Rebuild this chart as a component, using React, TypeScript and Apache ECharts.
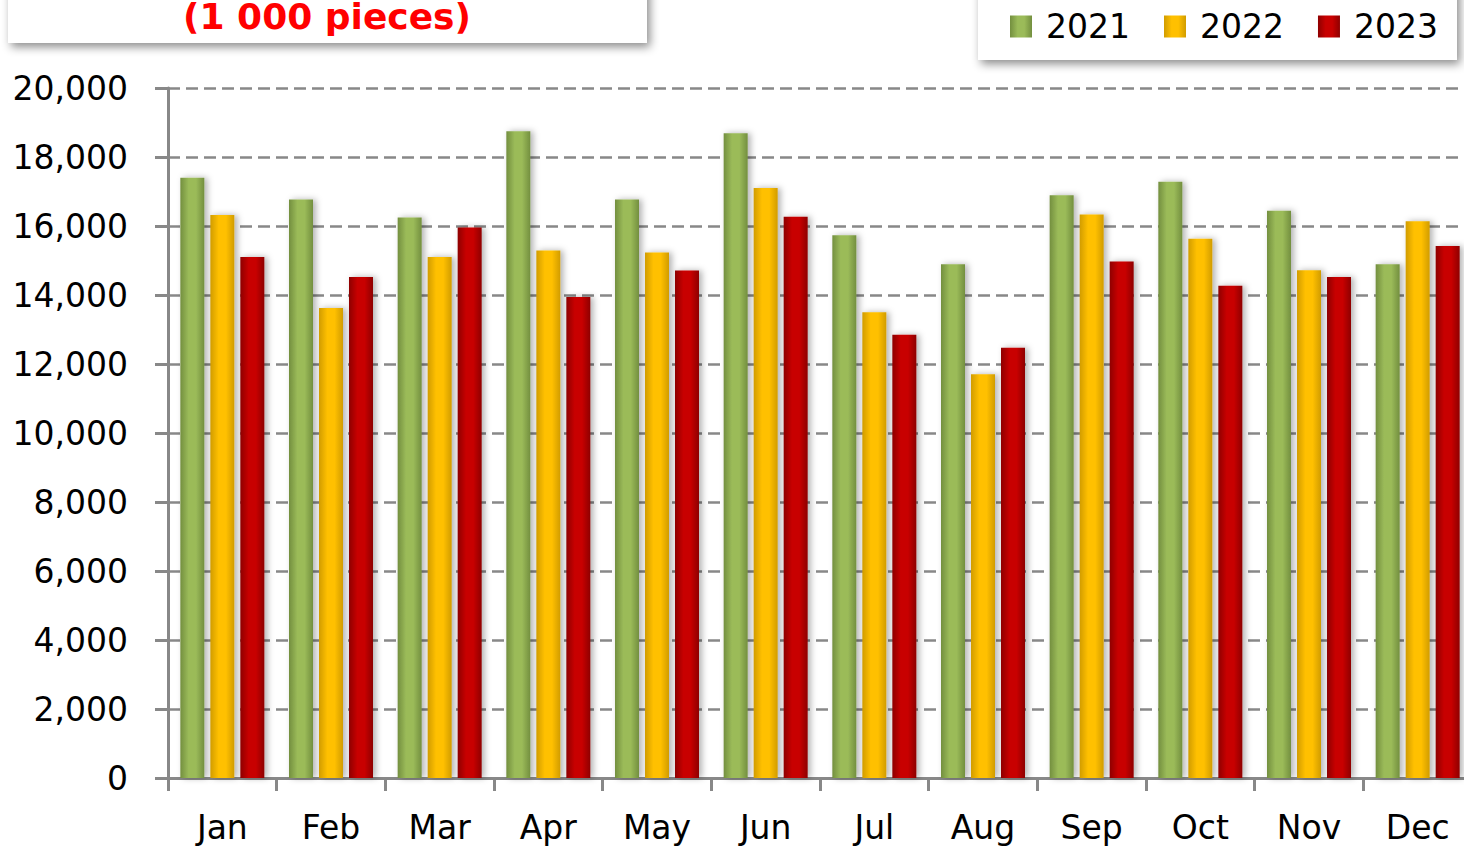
import React, { useEffect, useRef } from "react";
import * as echarts from "echarts";

const months = ["Jan", "Feb", "Mar", "Apr", "May", "Jun", "Jul", "Aug", "Sep", "Oct", "Nov", "Dec"];
const s2021 = [17400, 16770, 16250, 18750, 16770, 18690, 15730, 14890, 16890, 17280, 16440, 14890];
const s2022 = [16320, 13620, 15100, 15290, 15230, 17100, 13500, 11700, 16330, 15630, 14720, 16140];
const s2023 = [15100, 14520, 15960, 13940, 14710, 16270, 12850, 12470, 14970, 14270, 14520, 15420];
const yTicks = { min: 0, max: 20000, interval: 2000 };
const titleText = "(1 000 pieces)";

const FONT = "DejaVu Sans";

function grad(edge: string, mid: string) {
  return new echarts.graphic.LinearGradient(0, 0, 1, 0, [
    { offset: 0, color: edge },
    { offset: 0.35, color: mid },
    { offset: 0.65, color: mid },
    { offset: 1, color: edge },
  ]);
}

export default function App() {
  const ref = useRef<HTMLDivElement>(null);
  useEffect(() => {
    if (!ref.current) return;
    const chart = echarts.init(ref.current, null, { renderer: "svg" });
    const barCommon = {
      type: "bar",
      barWidth: 24,
      barGap: "25%",
      itemStyle: {
        shadowBlur: 6,
        shadowOffsetX: 3,
        shadowOffsetY: 0,
        shadowColor: "rgba(0,0,0,0.3)",
      },
    };
    chart.setOption({
      animation: false,
      backgroundColor: "#ffffff",
      grid: { left: 168, right: 0, top: 88, bottom: 68 },
      legend: {
        left: 1005,
        top: 5,
        itemWidth: 22,
        itemHeight: 22,
        itemGap: 34,
        icon: "rect",
        textStyle: { fontFamily: FONT, fontSize: 33, color: "#000", padding: [0, 0, 0, 9] },
        data: ["2021", "2022", "2023"],
      },
      graphic: [
        {
          type: "rect",
          z: 0,
          shape: { x: 8, y: -20, width: 639, height: 63 },
          style: { fill: "#fff", shadowBlur: 10, shadowOffsetX: 3, shadowOffsetY: 4, shadowColor: "rgba(0,0,0,0.45)" },
        },
        {
          type: "text",
          z: 1,
          x: 327,
          y: 16,
          style: {
            text: titleText,
            fill: "#ff0000",
            font: `bold 36px "${FONT}"`,
            align: "center",
            verticalAlign: "middle",
          },
        },
        {
          type: "rect",
          z: 0,
          shape: { x: 978, y: -20, width: 479, height: 80 },
          style: { fill: "#fff", shadowBlur: 10, shadowOffsetX: 3, shadowOffsetY: 4, shadowColor: "rgba(0,0,0,0.45)" },
        },
      ],
      xAxis: {
        type: "category",
        data: months,
        axisLine: { show: true, lineStyle: { color: "#888", width: 3 } },
        axisTick: { show: true, length: 13, lineStyle: { color: "#888", width: 3 } },
        axisLabel: { fontFamily: FONT, fontSize: 33, color: "#000", margin: 33 },
      },
      yAxis: {
        type: "value",
        min: yTicks.min,
        max: yTicks.max,
        interval: yTicks.interval,
        axisLine: { show: true, lineStyle: { color: "#888", width: 3 } },
        axisTick: { show: true, length: 13, lineStyle: { color: "#888", width: 3 } },
        axisLabel: {
          fontFamily: FONT,
          fontSize: 33,
          color: "#000",
          margin: 40,
          formatter: (v: number) => v.toLocaleString("en-US"),
        },
        splitLine: { show: true, lineStyle: { color: "#888", width: 2.5, type: [12, 6] } },
      },
      series: [
        { ...barCommon, name: "2021", data: s2021, itemStyle: { ...barCommon.itemStyle, color: grad("#738f3f", "#9bbb59") } },
        { ...barCommon, name: "2022", data: s2022, itemStyle: { ...barCommon.itemStyle, color: grad("#d19c00", "#ffc000") } },
        { ...barCommon, name: "2023", data: s2023, itemStyle: { ...barCommon.itemStyle, color: grad("#8e0000", "#c80000") } },
      ],
    });
    return () => chart.dispose();
  }, []);
  return <div ref={ref} style={{ position: "fixed", left: 0, top: 0, width: 1472, height: 846 }} />;
}
